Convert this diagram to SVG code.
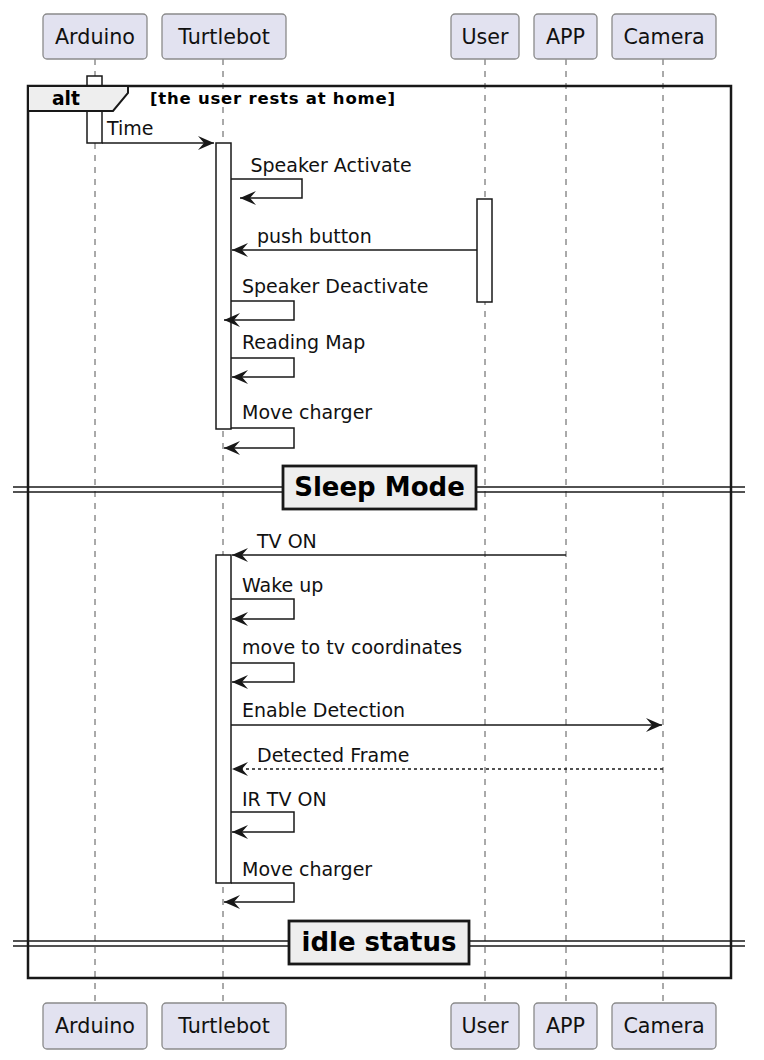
<svg xmlns="http://www.w3.org/2000/svg" width="764" height="1060" viewBox="0 0 764 1060">
<style>
.part rect{fill:#E2E2F0;stroke:#8a8a8a;stroke-width:1.3}
.part text{font-family:"DejaVu Sans","Liberation Sans",sans-serif;font-size:20.7px;fill:#111;text-anchor:middle}
.life{stroke:#555;stroke-width:1;stroke-dasharray:6,6;fill:none}
.act{fill:#fff;stroke:#181818;stroke-width:1.5}
.msg{stroke:#181818;stroke-width:1.5;fill:none}
.dash{stroke-dasharray:3,3}
.lbl{font-family:"DejaVu Sans","Liberation Sans",sans-serif;font-size:19px;fill:#111}
.frame{fill:none;stroke:#181818;stroke-width:2.5}
.tab{fill:#EEEEEE;stroke:#181818;stroke-width:2}
.bold{font-family:"DejaVu Sans","Liberation Sans",sans-serif;font-weight:bold;fill:#000}
.div{stroke:#181818;stroke-width:1.6;fill:none}
.divbox{fill:#EEEEEE;stroke:#181818;stroke-width:2.8}
</style>
<defs>
<marker id="ah" markerUnits="userSpaceOnUse" viewBox="-17 -8 18 16" refX="0" refY="0" markerWidth="18" markerHeight="16" orient="auto">
<path d="M0,0 L-16,-7 L-10,0 L-16,7 Z" fill="#181818" stroke="none"/>
</marker>
</defs>
<rect width="764" height="1060" fill="#fff"/>

<g id="lifelines">
<line class="life" x1="95" y1="59" x2="95" y2="1003"/>
<line class="life" x1="223" y1="59" x2="223" y2="1003"/>
<line class="life" x1="485" y1="59" x2="485" y2="1003"/>
<line class="life" x1="566" y1="59" x2="566" y2="1003"/>
<line class="life" x1="663" y1="59" x2="663" y2="1003"/>
</g>

<g id="activations">
<rect class="act" x="87" y="76" width="15" height="67"/>
<rect class="act" x="216" y="143" width="15" height="286"/>
<rect class="act" x="477" y="199" width="15" height="103"/>
<rect class="act" x="216" y="555" width="15" height="328"/>
</g>

<g id="alt-frame">
<rect class="frame" x="28" y="86" width="703" height="892"/>
<path class="tab" d="M28,86 H128 V93 L113,111 H28 Z"/>
<text class="bold" x="52" y="105" font-size="18.7">alt</text>
<text class="bold" x="150" y="104" font-size="16.5" textLength="245" lengthAdjust="spacing">[the user rests at home]</text>
</g>

<g id="participant-arduino" class="part">
<rect x="43" y="14" width="104" height="45" rx="4"/>
<text x="95" y="44">Arduino</text>
<rect x="43" y="1003" width="104" height="46" rx="4"/>
<text x="95" y="1033">Arduino</text>
</g>
<g id="participant-turtlebot" class="part">
<rect x="162" y="14" width="124" height="45" rx="4"/>
<text x="224" y="44">Turtlebot</text>
<rect x="162" y="1003" width="124" height="46" rx="4"/>
<text x="224" y="1033">Turtlebot</text>
</g>
<g id="participant-user" class="part">
<rect x="451" y="14" width="68" height="45" rx="4"/>
<text x="485" y="44">User</text>
<rect x="451" y="1003" width="68" height="46" rx="4"/>
<text x="485" y="1033">User</text>
</g>
<g id="participant-app" class="part">
<rect x="534" y="14" width="63" height="45" rx="4"/>
<text x="565.5" y="44">APP</text>
<rect x="534" y="1003" width="63" height="46" rx="4"/>
<text x="565.5" y="1033">APP</text>
</g>
<g id="participant-camera" class="part">
<rect x="612" y="14" width="104" height="45" rx="4"/>
<text x="664" y="44">Camera</text>
<rect x="612" y="1003" width="104" height="46" rx="4"/>
<text x="664" y="1033">Camera</text>
</g>

<g id="connectors">
<path class="msg" d="M102,143 H214" marker-end="url(#ah)"/>
<path class="msg" d="M231,179 H302 V198 H240" marker-end="url(#ah)"/>
<path class="msg" d="M477,250 H232" marker-end="url(#ah)"/>
<path class="msg" d="M231,301 H294 V320 H224" marker-end="url(#ah)"/>
<path class="msg" d="M231,358 H294 V377 H232" marker-end="url(#ah)"/>
<path class="msg" d="M231,428 H294 V448 H224" marker-end="url(#ah)"/>
<path class="msg" d="M566,555 H232" marker-end="url(#ah)"/>
<path class="msg" d="M231,599 H294 V619 H232" marker-end="url(#ah)"/>
<path class="msg" d="M231,663 H294 V682 H232" marker-end="url(#ah)"/>
<path class="msg" d="M231,725 H662" marker-end="url(#ah)"/>
<path class="msg dash" d="M663,769 H232" marker-end="url(#ah)"/>
<path class="msg" d="M231,812 H294 V832 H232" marker-end="url(#ah)"/>
<path class="msg" d="M231,883 H294 V902 H224" marker-end="url(#ah)"/>
</g>

<g id="labels">
<text class="lbl" x="107" y="135">Time</text>
<text class="lbl" x="250.5" y="172">Speaker Activate</text>
<text class="lbl" x="257" y="243">push button</text>
<text class="lbl" x="242" y="293">Speaker Deactivate</text>
<text class="lbl" x="242" y="349">Reading Map</text>
<text class="lbl" x="242" y="419">Move charger</text>
<text class="lbl" x="257" y="548">TV ON</text>
<text class="lbl" x="242" y="592">Wake up</text>
<text class="lbl" x="242" y="654">move to tv coordinates</text>
<text class="lbl" x="242" y="717">Enable Detection</text>
<text class="lbl" x="257" y="762">Detected Frame</text>
<text class="lbl" x="242" y="806">IR TV ON</text>
<text class="lbl" x="242" y="876">Move charger</text>
</g>

<g id="divider-sleep">
<line class="div" x1="13" y1="487" x2="745" y2="487"/>
<line class="div" x1="13" y1="492" x2="745" y2="492"/>
<rect class="divbox" x="283" y="466" width="193" height="43"/>
<text class="bold" x="379.5" y="496" font-size="26" text-anchor="middle">Sleep Mode</text>
</g>

<g id="divider-idle">
<line class="div" x1="13" y1="941" x2="745" y2="941"/>
<line class="div" x1="13" y1="946" x2="745" y2="946"/>
<rect class="divbox" x="289" y="921" width="180" height="43"/>
<text class="bold" x="379" y="951" font-size="26" text-anchor="middle">idle status</text>
</g>
</svg>
